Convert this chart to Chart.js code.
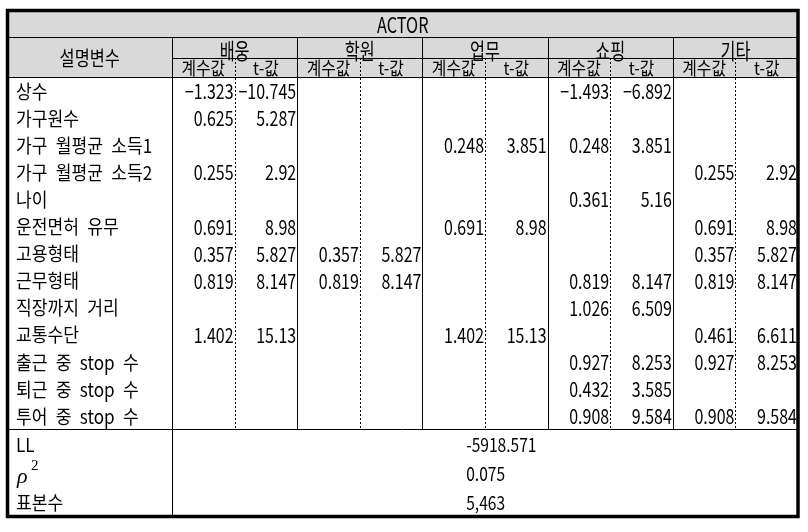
<!DOCTYPE html>
<html><head><meta charset="utf-8">
<script src="https://cdn.jsdelivr.net/npm/chart.js@4/dist/chart.umd.min.js"></script>
<style>html,body{margin:0;padding:0;background:#fff}</style>
</head><body>
<canvas id="c" width="808" height="532"></canvas>
<script>
// ---------- data ----------
const tableTitle = 'ACTOR';
const varHeader = '설명변수';
const groups = ['배웅', '학원', '업무', '쇼핑', '기타'];
const subHeaders = ['계수값', 't-값'];
const variables = ['상수', '가구원수', '가구 월평균 소득1', '가구 월평균 소득2', '나이', '운전면허 유무',
  '고용형태', '근무형태', '직장까지 거리', '교통수단', '출근 중 stop 수', '퇴근 중 stop 수', '투어 중 stop 수'];
const escortCoef  = [-1.323, 0.625, null, 0.255, null, 0.691, 0.357, 0.819, null, 1.402, null, null, null];
const escortT     = [-10.745, 5.287, null, 2.92, null, 8.98, 5.827, 8.147, null, 15.13, null, null, null];
const academyCoef = [null, null, null, null, null, null, 0.357, 0.819, null, null, null, null, null];
const academyT    = [null, null, null, null, null, null, 5.827, 8.147, null, null, null, null, null];
const workCoef    = [null, null, 0.248, null, null, 0.691, null, null, null, 1.402, null, null, null];
const workT       = [null, null, 3.851, null, null, 8.98, null, null, null, 15.13, null, null, null];
const shopCoef    = [-1.493, null, 0.248, null, 0.361, null, null, 0.819, 1.026, null, 0.927, 0.432, 0.908];
const shopT       = [-6.892, null, 3.851, null, 5.16, null, null, 8.147, 6.509, null, 8.253, 3.585, 9.584];
const otherCoef   = [null, null, null, 0.255, null, 0.691, 0.357, 0.819, null, 0.461, 0.927, null, 0.908];
const otherT      = [null, null, null, 2.92, null, 8.98, 5.827, 8.147, null, 6.611, 8.253, null, 9.584];
const fitLabels = ['LL', 'rho2', '표본수'];
const fitValues = [-5918.571, 0.075, 5463];

// ---------- layout (scale units) ----------
const LABEL_W = 2.628;
const X_MAX = LABEL_W + 10;
const H_TITLE = 0.979, H_GROUP = 0.775, H_SUB = 0.702, H_ROW = 1, H_FIT = 1.077;
const Y_GROUP = H_TITLE, Y_SUB = Y_GROUP + H_GROUP, Y_ROWS = Y_SUB + H_SUB;
const Y_FIT = Y_ROWS + variables.length * H_ROW;
const Y_MAX = Y_FIT + fitLabels.length * H_FIT;
const FIT_X = LABEL_W + 4.70;
const LABEL_X = 0.136;
const FONT = "'Noto Sans CJK KR', 'Noto Sans', sans-serif";

const seriesCols = [escortCoef, escortT, academyCoef, academyT, workCoef, workT, shopCoef, shopT, otherCoef, otherT];
const datasets = seriesCols.map((arr, c) => ({
  label: groups[Math.floor(c / 2)] + ' ' + subHeaders[c % 2],
  kind: 'cell',
  data: arr.map((v, i) => ({ x: LABEL_W + c + 1, y: Y_ROWS + (i + 0.5) * H_ROW, v }))
           .filter(p => p.v !== null),
  pointRadius: 0, pointHoverRadius: 0, showLine: false
}));
datasets.push({
  label: 'fit', kind: 'fit',
  data: fitValues.map((v, i) => ({ x: FIT_X, y: Y_FIT + (i + 0.5) * H_FIT, v })),
  pointRadius: 0, pointHoverRadius: 0, showLine: false
});

function fmt(v, kind) {
  if (kind === 'fit') return Number.isInteger(v) ? v.toLocaleString('en-US') : String(v);
  return v < 0 ? '−' + String(-v) : String(v);
}
function txt(ctx, s, x, y, align, size, sx, opts) {
  opts = opts || {};
  ctx.save();
  ctx.font = (opts.style ? opts.style + ' ' : '') + size + 'px ' + (opts.family || FONT);
  ctx.textBaseline = 'middle';
  ctx.textAlign = align;
  if (opts.wordSpacing) ctx.wordSpacing = opts.wordSpacing;
  ctx.translate(x, y);
  ctx.scale(sx, 1);
  ctx.fillText(s, 0, 0);
  ctx.restore();
}

const tablePlugin = {
  id: 'table',
  beforeDatasetsDraw(chart) {
    const { ctx } = chart;
    const xs = chart.scales.x, ys = chart.scales.y;
    const X = v => xs.getPixelForValue(v), Y = v => ys.getPixelForValue(v);
    const L = X(0), R = X(X_MAX), T = Y(0), B = Y(Y_MAX);
    ctx.save();
    ctx.fillStyle = '#d9d9d9';
    ctx.fillRect(L, T, R - L, Y(Y_ROWS) - T);
    ctx.strokeStyle = '#000';
    ctx.lineWidth = 1;
    const hl = (y, x0, x1) => { ctx.beginPath(); ctx.moveTo(x0, Math.round(y) + 0.5); ctx.lineTo(x1, Math.round(y) + 0.5); ctx.stroke(); };
    const vl = (x, y0, y1) => { ctx.beginPath(); ctx.moveTo(Math.round(x) + 0.5, y0); ctx.lineTo(Math.round(x) + 0.5, y1); ctx.stroke(); };
    hl(Y(Y_GROUP), L, R);
    hl(Y(Y_SUB), X(LABEL_W), R);
    hl(Y(Y_ROWS), L, R);
    hl(Y(Y_FIT), L, R);
    vl(X(LABEL_W), Y(Y_GROUP), B);
    for (let g = 1; g < groups.length; g++) vl(X(LABEL_W + 2 * g), Y(Y_GROUP), Y(Y_FIT));
    ctx.setLineDash([2, 2]);
    for (let g = 0; g < groups.length; g++) vl(X(LABEL_W + 2 * g + 1), Y(Y_SUB), Y(Y_FIT));
    ctx.setLineDash([]);
    ctx.lineWidth = 3.5;
    ctx.strokeRect(L, T, R - L, B - T);
    ctx.restore();
  },
  afterDatasetsDraw(chart) {
    const { ctx } = chart;
    const xs = chart.scales.x, ys = chart.scales.y;
    const X = v => xs.getPixelForValue(v), Y = v => ys.getPixelForValue(v);
    ctx.save();
    ctx.fillStyle = '#000';
    txt(ctx, tableTitle, (X(0) + X(X_MAX)) / 2, Y(H_TITLE / 2) + 1, 'center', 22, 0.74);
    txt(ctx, varHeader, X(LABEL_W / 2), Y((Y_GROUP + Y_ROWS) / 2) + 1, 'center', 20, 0.82);
    groups.forEach((g, i) => {
      txt(ctx, g, X(LABEL_W + 2 * i + 1), Y(Y_GROUP + H_GROUP / 2) + 3, 'center', 22, 0.74);
      subHeaders.forEach((s, j) => {
        txt(ctx, s, X(LABEL_W + 2 * i + j + 0.5), Y(Y_SUB + H_SUB / 2) + 1, 'center', 18, 0.88);
      });
    });
    variables.forEach((v, i) => txt(ctx, v, X(LABEL_X), Y(Y_ROWS + (i + 0.5) * H_ROW) + 1, 'left', 19, 0.9, { wordSpacing: '5px' }));
    fitLabels.forEach((v, i) => {
      const y = Y(Y_FIT + (i + 0.5) * H_FIT) + 1;
      if (v === 'rho2') {
        txt(ctx, 'ρ', X(LABEL_X) + 1, y + 3, 'left', 22, 1, { style: 'italic', family: "'Liberation Serif', 'DejaVu Serif', serif" });
        txt(ctx, '2', X(LABEL_X) + 15, y - 8, 'left', 15, 1, { family: "'Liberation Serif', 'DejaVu Serif', serif" });
      } else {
        txt(ctx, v, X(LABEL_X), y, 'left', 19, 0.9);
      }
    });
    chart.data.datasets.forEach((ds, di) => {
      const meta = chart.getDatasetMeta(di);
      meta.data.forEach((el, j) => {
        const p = ds.data[j];
        if (ds.kind === 'fit') txt(ctx, fmt(p.v, 'fit'), el.x, el.y + 1, 'left', 19, 0.82);
        else txt(ctx, fmt(p.v, 'cell'), el.x - 1, el.y + 1, 'right', 20, 0.8);
      });
    });
    ctx.restore();
  }
};

new Chart(document.getElementById('c'), {
  type: 'scatter',
  data: { datasets },
  options: {
    responsive: false,
    animation: false,
    layout: { padding: { left: 7.5, top: 10.5, right: 10, bottom: 15.5 } },
    plugins: { legend: { display: false }, tooltip: { enabled: false }, title: { display: false } },
    scales: {
      x: { type: 'linear', min: 0, max: X_MAX, display: false },
      y: { type: 'linear', min: 0, max: Y_MAX, reverse: true, display: false }
    }
  },
  plugins: [tablePlugin]
});
</script>
</body></html>
